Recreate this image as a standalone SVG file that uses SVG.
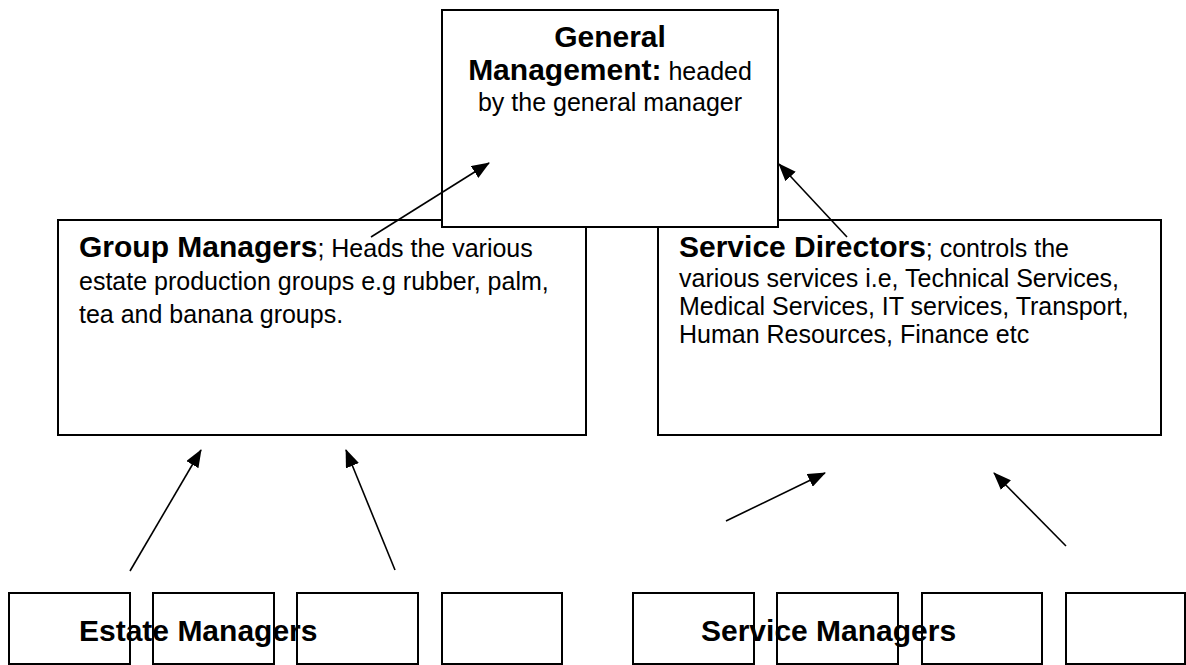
<svg xmlns="http://www.w3.org/2000/svg" width="1186" height="665" viewBox="0 0 1186 665">
  <defs>
    <marker id="arrow" viewBox="0 0 18 14" refX="17" refY="7" markerWidth="18" markerHeight="14" markerUnits="userSpaceOnUse" orient="auto">
      <path d="M0,0 L18,7 L0,14 Z" fill="#000"/>
    </marker>
    <style>
      .box { fill: #fff; stroke: #000; stroke-width: 2; }
      .small { fill: none; stroke: #000; stroke-width: 2; }
      .conn { stroke: #000; stroke-width: 1.6; fill: none; marker-end: url(#arrow); }
      text { font-family: "Liberation Sans", Arial, sans-serif; fill: #000; }
      .b { font-weight: bold; font-size: 30px; }
      .r { font-weight: normal; font-size: 25px; }
    </style>
  </defs>
  <rect width="1186" height="665" fill="#fff"/>

  <g id="group-managers">
    <rect class="box" x="58" y="220" width="528" height="215"/>
    <text x="79" y="257"><tspan class="b">Group Managers</tspan><tspan class="r">; Heads the various</tspan></text>
    <text class="r" x="79" y="290">estate production groups e.g rubber, palm,</text>
    <text class="r" x="79" y="323">tea and banana groups.</text>
  </g>

  <g id="service-directors">
    <rect class="box" x="658" y="220" width="503" height="215"/>
    <text x="679" y="257"><tspan class="b">Service Directors</tspan><tspan class="r">; controls the</tspan></text>
    <text class="r" x="679" y="287">various services i.e, Technical Services,</text>
    <text class="r" x="679" y="315">Medical Services, IT services, Transport,</text>
    <text class="r" x="679" y="343">Human Resources, Finance etc</text>
  </g>

  <g id="general-management">
    <rect class="box" x="442" y="10" width="336" height="217"/>
    <text class="b" x="610" y="47" text-anchor="middle">General</text>
    <text x="610" y="80" text-anchor="middle"><tspan class="b">Management:</tspan><tspan class="r"> headed</tspan></text>
    <text class="r" x="610" y="111" text-anchor="middle">by the general manager</text>
  </g>

  <g id="estate-manager-1"><rect class="small" x="9" y="593" width="121" height="71"/></g>
  <g id="estate-manager-2"><rect class="small" x="153" y="593" width="121" height="71"/></g>
  <g id="estate-manager-3"><rect class="small" x="297" y="593" width="121" height="71"/></g>
  <g id="estate-manager-4"><rect class="small" x="442" y="593" width="120" height="71"/></g>
  <g id="service-manager-1"><rect class="small" x="633" y="593" width="121" height="71"/></g>
  <g id="service-manager-2"><rect class="small" x="777" y="593" width="121" height="71"/></g>
  <g id="service-manager-3"><rect class="small" x="922" y="593" width="120" height="71"/></g>
  <g id="service-manager-4"><rect class="small" x="1066" y="593" width="119" height="71"/></g>

  <g id="labels">
    <text class="b" x="79" y="641">Estate Managers</text>
    <text class="b" x="701" y="641">Service Managers</text>
  </g>

  <g id="connectors">
    <line class="conn" x1="371" y1="237" x2="489" y2="163"/>
    <line class="conn" x1="847" y1="237" x2="779" y2="164"/>
    <line class="conn" x1="130" y1="571" x2="201" y2="450"/>
    <line class="conn" x1="395" y1="570" x2="346" y2="450"/>
    <line class="conn" x1="726" y1="521" x2="825" y2="473"/>
    <line class="conn" x1="1066" y1="546" x2="994" y2="473"/>
  </g>
</svg>
